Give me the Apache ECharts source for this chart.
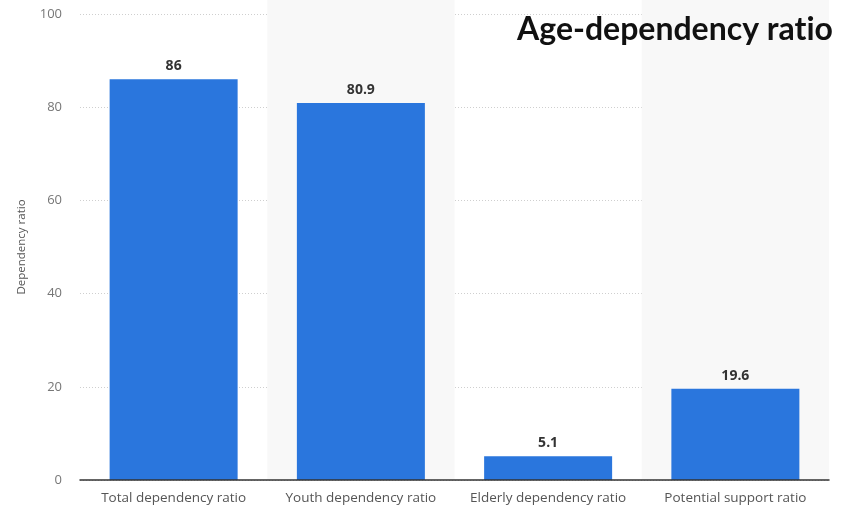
<!DOCTYPE html>
<html>
<head>
<meta charset="utf-8">
<script src="https://cdn.jsdelivr.net/npm/echarts@6/dist/echarts.min.js"></script>
<style>
  html, body { margin: 0; padding: 0; background: #fff; }
  #chart { width: 848px; height: 506px; }
</style>
</head>
<body>
<div id="chart"></div>
<script>
// Age-dependency ratios
const categories = [
  'Total dependency ratio',
  'Youth dependency ratio',
  'Elderly dependency ratio',
  'Potential support ratio'
];
const values = [86, 80.9, 5.1, 19.6];
const yTicks = [0, 20, 40, 60, 80, 100];

const chart = echarts.init(document.getElementById('chart'));
const font = "'Open Sans', sans-serif";

chart.setOption({
  animation: false,
  title: {
    // zero-width non-joiner keeps "t" and "i" from forming a ligature
    text: 'Age-dependency rat\u200Cio',
    right: 10,
    top: 9,
    textStyle: { fontFamily: 'Lato', fontWeight: 'bold', fontSize: 32, color: '#111' }
  },
  grid: [
    { left: 80, right: 19, top: 14, bottom: 26 },
    { left: 80, right: 19, top: 0, bottom: 26 }
  ],
  xAxis: [
    {
      type: 'category',
      gridIndex: 0,
      data: categories,
      axisLine: { lineStyle: { color: '#333', width: 1.5 } },
      axisTick: { show: false },
      axisLabel: { color: '#555', fontFamily: font, fontSize: 13.5, margin: 11, interval: 0 },
      z: 3
    },
    {
      type: 'category',
      gridIndex: 1,
      data: categories,
      axisLine: { show: false },
      axisTick: { show: false },
      axisLabel: { show: false },
      splitArea: { show: true, areaStyle: { color: ['rgba(255,255,255,0)', '#f8f8f8'] } }
    }
  ],
  yAxis: [
    {
      type: 'value',
      gridIndex: 0,
      min: yTicks[0],
      max: yTicks[yTicks.length - 1],
      interval: 20,
      name: 'Dependency ratio',
      nameLocation: 'middle',
      nameGap: 52,
      nameTextStyle: { color: '#555', fontFamily: font, fontSize: 11.5 },
      axisLine: { show: false },
      axisTick: { show: false },
      axisLabel: { color: '#777', fontFamily: font, fontSize: 13, margin: 18 },
      splitLine: { lineStyle: { color: '#cfcfcf', type: [1, 2], width: 1 } }
    },
    {
      type: 'value',
      gridIndex: 1,
      show: false,
      splitLine: { show: false }
    }
  ],
  series: [
    {
      type: 'bar',
      xAxisIndex: 0,
      yAxisIndex: 0,
      data: values,
      barWidth: 128,
      itemStyle: { color: '#2a76dd' },
      label: {
        show: true,
        position: 'top',
        distance: 6,
        color: '#333',
        fontFamily: font,
        fontWeight: 'bold',
        fontSize: 14
      },
      z: 2
    }
  ]
});
</script>
</body>
</html>
